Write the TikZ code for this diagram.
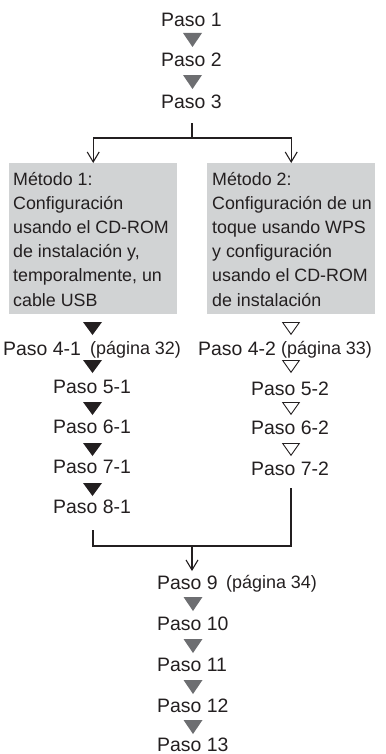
\documentclass[tikz,border=0pt]{standalone}
\usepackage{fontspec}
\setmainfont{Liberation Sans}
\usetikzlibrary{arrows.meta}
\definecolor{txt}{HTML}{231F20}
\definecolor{boxgray}{HTML}{D1D3D4}
\definecolor{trigray}{HTML}{6D6E71}
\begin{document}
\begin{tikzpicture}[x=1bp,y=-1bp,
  paso/.style={font=\fontsize{19.5}{22}\selectfont, text=txt, inner sep=0pt, anchor=base west},
  pag/.style={font=\fontsize{18}{20}\selectfont, text=txt, inner sep=0pt, anchor=base west},
  metbox/.style={fill=boxgray, draw=none, minimum width=168bp, minimum height=151bp, anchor=north west, inner sep=0pt},
  mettext/.style={font=\fontsize{17.9}{24.3}\selectfont, text=txt, inner sep=0pt, anchor=base west},
  link/.style={draw=txt, line width=1.1bp},
  stem/.style={draw=txt, line width=1.8bp},
  arr/.style={-{Straight Barb[length=10bp,width=12bp,line width=1.1bp]}},
  gtri/.pic={\fill[trigray] (-9.5,0) -- (9.5,0) -- (0,14) -- cycle;},
  btri/.pic={\fill[txt] (-9.5,0) -- (9.5,0) -- (0,13) -- cycle;},
  otri/.pic={\draw[txt, line width=0.9bp, line join=miter] (-8.3,0.5) -- (8.3,0.5) -- (0,12.3) -- cycle;}
]
\useasboundingbox (0,0) rectangle (385,754);

% top steps
\node[paso] (p1) at (161,27) {Paso 1};
\node[paso] (p2) at (161,67) {Paso 2};
\node[paso] (p3) at (161,108) {Paso 3};
\pic at (192.5,33) {gtri};
\pic at (192.5,75) {gtri};

% method boxes
\node[metbox] (m1) at (9,163) {};
\node[metbox] (m2) at (207,163) {};
\node[mettext] (t1) at (13,185) {\parbox[t]{168bp}{Método 1:\\Configuración\\usando el CD-ROM\\de instalación y,\\temporalmente, un\\cable USB}};
\node[mettext] (t2) at (212,185) {\parbox[t]{168bp}{Método 2:\\Configuración de un\\toque usando WPS\\y configuración\\usando el CD-ROM\\de instalación}};

% split connector
\coordinate (j3) at (192,123);
\coordinate (jh) at (192,138);
\draw[stem] (j3) -- (jh);
\draw[link,arr] (jh) -| (m1.north);
\draw[link,arr] (jh) -| (m2.north);

% left column
\node[paso] (p41) at (3,355) {Paso 4-1};
\node[pag] (g32) at (90,354) {(página 32)};
\node[paso] (p51) at (53,393) {Paso 5-1};
\node[paso] (p61) at (53,433) {Paso 6-1};
\node[paso] (p71) at (53,473) {Paso 7-1};
\node[paso] (p81) at (53,513) {Paso 8-1};
\pic at (92.5,322) {btri};
\pic at (92.5,360) {btri};
\pic at (92.5,402) {btri};
\pic at (92.5,443) {btri};
\pic at (92.5,483) {btri};

% right column
\node[paso] (p42) at (198,355) {Paso 4-2};
\node[pag] (g33) at (281,354) {(página 33)};
\node[paso] (p52) at (251,395) {Paso 5-2};
\node[paso] (p62) at (251,434) {Paso 6-2};
\node[paso] (p72) at (251,475) {Paso 7-2};
\pic at (291,322) {otri};
\pic at (291,360) {otri};
\pic at (291,402) {otri};
\pic at (291,443) {otri};

% merge connector
\coordinate (l8) at (93,530);
\coordinate (r7) at (291,488);
\coordinate (jb) at (192,546);
\coordinate (a9) at (192,571);
\draw[link] (l8) |- (jb);
\draw[link] (r7) |- (jb);
\draw[link,line width=1.6bp,arr] (jb) -- (a9);

% bottom steps
\node[paso] (p9) at (157,589) {Paso 9};
\node[pag] (g34) at (226,588) {(página 34)};
\node[paso] (p10) at (157,630) {Paso 10};
\node[paso] (p11) at (157,671) {Paso 11};
\node[paso] (p12) at (157,712) {Paso 12};
\node[paso] (p13) at (157,751) {Paso 13};
\pic at (193,597) {gtri};
\pic at (193,639) {gtri};
\pic at (193,680) {gtri};
\pic at (193,720) {gtri};
\end{tikzpicture}
\end{document}
